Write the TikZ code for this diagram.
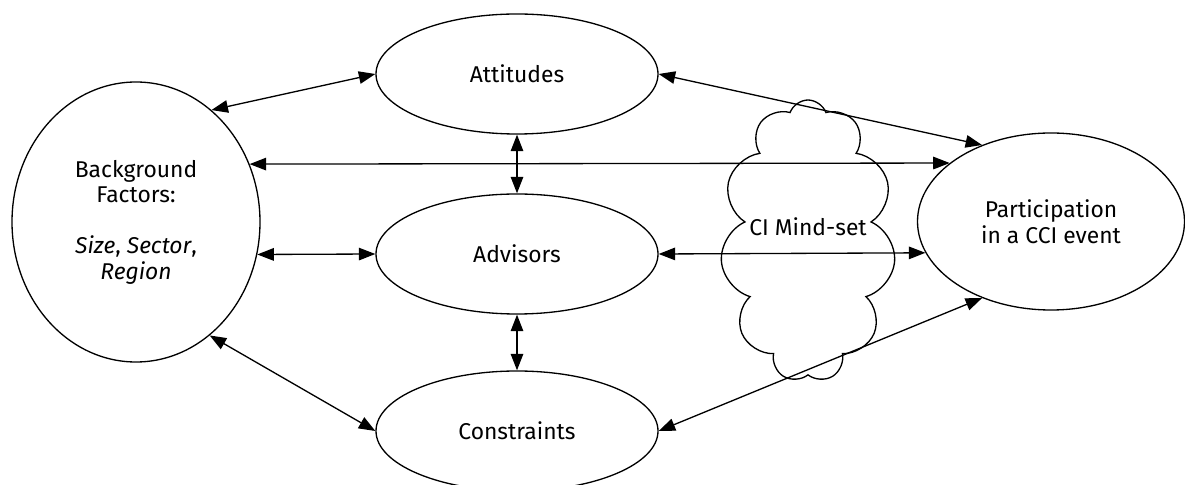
\documentclass[tikz,border=0pt]{standalone}
\usepackage{fontspec}
\setmainfont{Fira Sans}
\usetikzlibrary{arrows.meta}
\usetikzlibrary{shapes.geometric}
\usetikzlibrary{shapes.symbols}
\tikzset{oval/.style = {draw, ellipse, line width=0.75pt, inner sep=0,
                        minimum width=5.64cm, minimum height=2.4cm,
                        align=center, font=\fontsize{13}{14.5}\selectfont}}
\tikzset{link/.style = {<->, line width=0.75pt,
                        >={Triangle[length=3.3mm, width=2.5mm]}}}

\begin{document}
\begin{tikzpicture}
      \useasboundingbox (0, 0) rectangle (23.7, 9.7);

      \node [oval, minimum width=4.96cm, minimum height=5.6cm] (bg) at (2.72, 5.26)
        {Background\\Factors:\\[14.5pt]\textit{Size}, \textit{Sector},\\\textit{Region}};

      \node [oval] (att) at (10.34, 8.22) {Attitudes};
      \node [oval] (adv) at (10.34, 4.62) {Advisors};
      \node [oval] (con) at (10.34, 1.08) {Constraints};

      \node [oval, minimum width=5.34cm, minimum height=3.54cm] (part) at (21.02, 5.27)
        {Participation\\in a CCI event};

      \node [draw, cloud, cloud puffs=11, cloud puff arc=140, cloud ignores aspect,
             line width=0.75pt, minimum width=3.5cm, minimum height=5.64cm] (mind) at (16.16, 4.88) {};
      \node [font=\fontsize{13}{14.5}\selectfont] (mindtext) at (16.16, 5.16) {CI Mind-set};

      \draw [link] (bg.56) -- (att.west);
      \draw [link] (bg.27) -- (part.150);
      \draw [link] (bg.-15) -- (adv.west);
      \draw [link] (bg.-57) -- (con.west);

      \draw [link] (att.south) -- (adv.north);
      \draw [link] (adv.south) -- (con.north);

      \draw [link] (att.east) -- (part.132);
      \draw [link] (adv.east) -- (part.194);
      \draw [link] (con.east) -- (part.228);
    \end{tikzpicture}
\end{document}
